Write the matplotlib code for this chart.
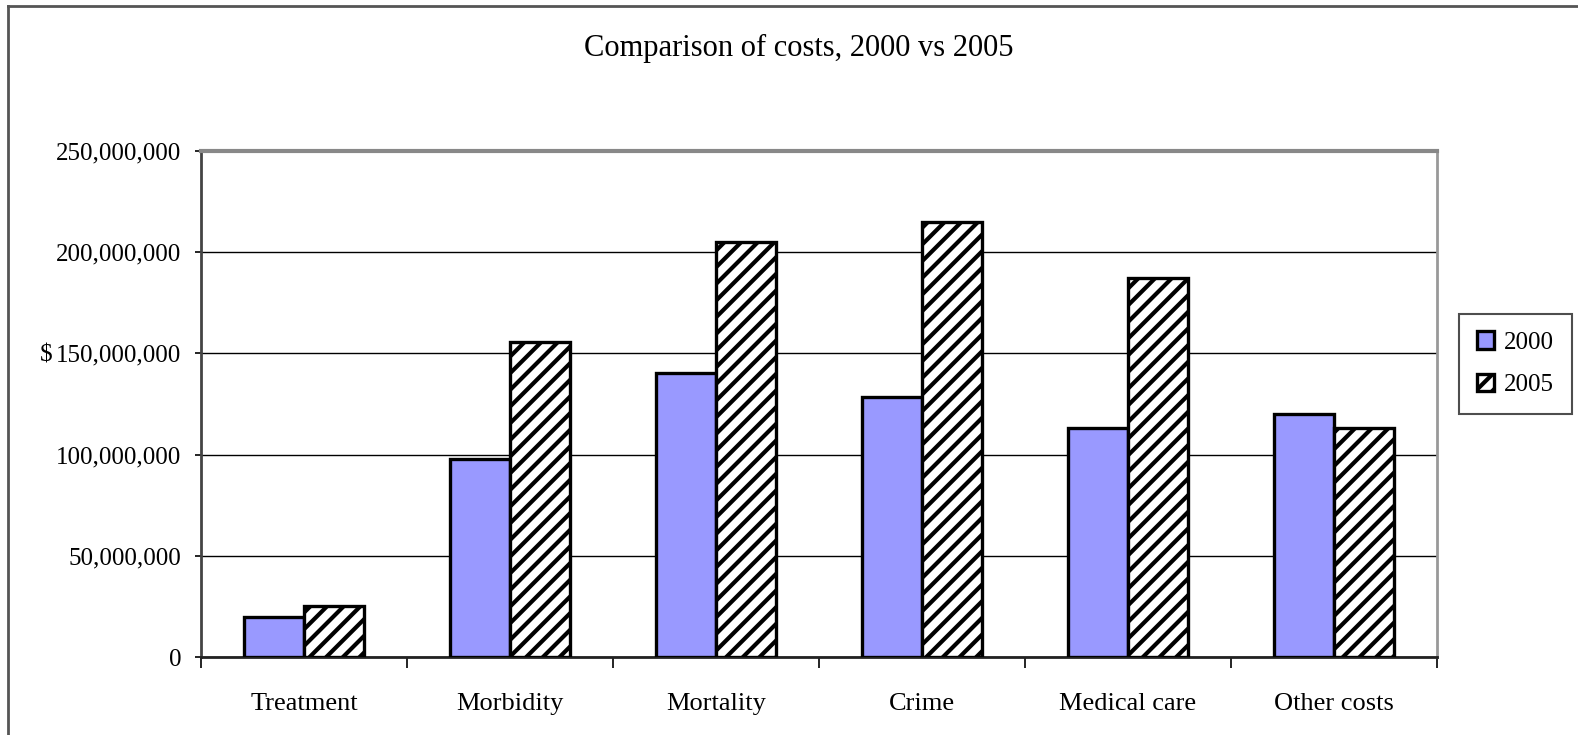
import numpy as np
import matplotlib
matplotlib.use("Agg")
import matplotlib.pyplot as plt
from matplotlib.ticker import FuncFormatter, FixedLocator
from matplotlib.lines import Line2D

plt.rcParams['font.family'] = ['Liberation Serif', 'DejaVu Serif']
plt.rcParams['hatch.linewidth'] = 3.0

categories = ['Treatment', 'Morbidity', 'Mortality', 'Crime', 'Medical care', 'Other costs']
costs_2000 = [20e6, 98e6, 140.5e6, 128.5e6, 113e6, 120e6]
costs_2005 = [25e6, 155.5e6, 205e6, 215e6, 187.5e6, 113e6]
series_names = ['2000', '2005']
y_ticks = [0, 50e6, 100e6, 150e6, 200e6, 250e6]

fig = plt.figure(figsize=(15.78, 7.35), dpi=100)
ax = fig.add_axes([201/1578, 78/735, 1236/1578, 506/735])

x = np.arange(len(categories))
w = 0.29
b1 = ax.bar(x - w/2, costs_2000, w, color='#9999ff', edgecolor='black',
            linewidth=2.4, label=series_names[0], zorder=3)
b2 = ax.bar(x + w/2, costs_2005, w, color='white', edgecolor='black',
            hatch='//', linewidth=2.4, label=series_names[1], zorder=3)

ax.set_xlim(-0.5, len(categories) - 0.5)
ax.set_ylim(0, 250e6)
ax.set_yticks(y_ticks)
ax.yaxis.set_major_formatter(FuncFormatter(lambda v, p: f"{int(v):,}"))
ax.grid(axis='y', color='black', linewidth=1.0, zorder=0)

ax.set_xticks(x)
ax.set_xticklabels(categories)
ax.xaxis.set_minor_locator(FixedLocator(np.arange(-0.5, len(categories), 1.0)))
ax.tick_params(axis='x', which='major', length=0, pad=26, labelsize=19)
ax.tick_params(axis='x', which='minor', length=8, width=1.2, direction='out')
ax.tick_params(axis='y', length=4, width=1.2, pad=10, labelsize=18)

ax.spines['left'].set_color('#444444')
ax.spines['left'].set_linewidth(2)
ax.spines['bottom'].set_color('#222222')
ax.spines['bottom'].set_linewidth(2)
ax.spines['top'].set_color('#888888')
ax.spines['top'].set_linewidth(3)
ax.spines['right'].set_color('#999999')
ax.spines['right'].set_linewidth(2)

ax.set_ylabel('$', rotation=0, fontsize=18, va='center', ha='center')
ax.yaxis.set_label_coords(-0.125, 0.595)

fig.text(0.506, 1 - 48/735, 'Comparison of costs, 2000 vs 2005',
         ha='center', va='center', fontsize=22)

leg = fig.legend(handles=[b1, b2], loc='upper left',
                 bbox_to_anchor=(1459/1578, 1 - 314/735),
                 frameon=True, fancybox=False, fontsize=18,
                 handlelength=0.7, handleheight=0.7, handletextpad=0.4,
                 borderpad=0.7, labelspacing=0.8, borderaxespad=0)
leg.get_frame().set_edgecolor('#222222')
leg.get_frame().set_linewidth(1.5)

# outer chart border (only top and left visible)
fig.add_artist(Line2D([8/1578, 8/1578], [0, 1 - 6/735], color='#555555', linewidth=2))
fig.add_artist(Line2D([8/1578, 1], [1 - 6/735, 1 - 6/735], color='#555555', linewidth=2))

fig.savefig('out.png', dpi=100, facecolor='white')
